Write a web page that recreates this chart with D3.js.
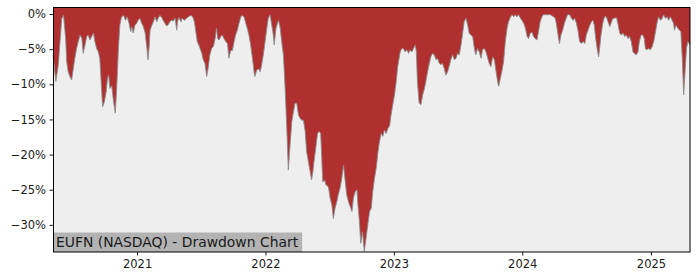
<!DOCTYPE html>
<html lang="en">
<head>
<meta charset="UTF-8">
<title>EUFN Drawdown</title>
<script src="https://d3js.org/d3.v7.min.js"></script>
<style>
  html, body { margin: 0; padding: 0; background: #fff; }
  svg text { font-family: "DejaVu Sans", sans-serif; }
</style>
</head>
<body>
<div id="chart"></div>
<script>
// drawdown in %
const dates = [
  "2020-05-07","2020-05-15","2020-05-22","2020-05-27","2020-06-01","2020-06-06","2020-06-12","2020-06-15","2020-06-19","2020-06-24",
  "2020-06-29","2020-07-03","2020-07-08","2020-07-13","2020-07-18","2020-07-23","2020-07-28","2020-08-01","2020-08-06","2020-08-11",
  "2020-08-15","2020-08-20","2020-08-25","2020-08-30","2020-09-03","2020-09-08","2020-09-13","2020-09-17","2020-09-22","2020-09-25",
  "2020-09-30","2020-10-05","2020-10-09","2020-10-12","2020-10-16","2020-10-21","2020-10-25","2020-10-31","2020-11-04","2020-11-09",
  "2020-11-13","2020-11-18","2020-11-24","2020-11-29","2020-12-04","2020-12-09","2020-12-14","2020-12-17","2020-12-21","2020-12-26",
  "2020-12-31","2021-01-04","2021-01-09","2021-01-14","2021-01-19","2021-01-24","2021-01-29","2021-02-01","2021-02-04","2021-02-07",
  "2021-02-12","2021-02-18","2021-02-21","2021-02-26","2021-03-02","2021-03-07","2021-03-12","2021-03-16","2021-03-21","2021-03-26",
  "2021-03-31","2021-04-04","2021-04-09","2021-04-14","2021-04-19","2021-04-24","2021-04-26","2021-04-30","2021-05-06","2021-05-09",
  "2021-05-15","2021-05-22","2021-05-27","2021-06-03","2021-06-08","2021-06-13","2021-06-17","2021-06-21","2021-06-27","2021-07-04",
  "2021-07-08","2021-07-13","2021-07-18","2021-07-22","2021-07-27","2021-08-01","2021-08-06","2021-08-11","2021-08-15","2021-08-18",
  "2021-08-22","2021-08-27","2021-08-31","2021-09-05","2021-09-10","2021-09-15","2021-09-19","2021-09-24","2021-09-29","2021-10-04",
  "2021-10-08","2021-10-13","2021-10-18","2021-10-23","2021-10-27","2021-11-01","2021-11-06","2021-11-10","2021-11-15","2021-11-20",
  "2021-11-25","2021-11-30","2021-12-02","2021-12-07","2021-12-12","2021-12-17","2021-12-21","2021-12-26","2021-12-31","2022-01-05",
  "2022-01-09","2022-01-14","2022-01-22","2022-01-26","2022-01-31","2022-02-07","2022-02-12","2022-02-16","2022-02-21","2022-02-26",
  "2022-03-03","2022-03-07","2022-03-12","2022-03-17","2022-03-21","2022-03-26","2022-03-31","2022-04-05","2022-04-09","2022-04-14",
  "2022-04-19","2022-04-24","2022-04-28","2022-05-03","2022-05-08","2022-05-12","2022-05-16","2022-05-19","2022-05-24","2022-05-29",
  "2022-06-03","2022-06-07","2022-06-10","2022-06-13","2022-06-18","2022-06-22","2022-06-29","2022-07-04","2022-07-09","2022-07-13",
  "2022-07-18","2022-07-23","2022-07-27","2022-08-01","2022-08-06","2022-08-11","2022-08-16","2022-08-20","2022-08-25","2022-08-30",
  "2022-09-04","2022-09-08","2022-09-13","2022-09-18","2022-09-21","2022-09-25","2022-09-29","2022-10-04","2022-10-09","2022-10-14",
  "2022-10-19","2022-10-24","2022-10-29","2022-11-02","2022-11-07","2022-11-12","2022-11-17","2022-11-21","2022-11-26","2022-12-01",
  "2022-12-05","2022-12-10","2022-12-15","2022-12-20","2022-12-24","2022-12-29","2023-01-03","2023-01-08","2023-01-12","2023-01-19",
  "2023-01-24","2023-01-28","2023-02-02","2023-02-07","2023-02-12","2023-02-16","2023-02-21","2023-02-26","2023-03-03","2023-03-06",
  "2023-03-09","2023-03-14","2023-03-19","2023-03-24","2023-03-29","2023-04-02","2023-04-07","2023-04-12","2023-04-16","2023-04-21",
  "2023-04-26","2023-05-01","2023-05-05","2023-05-10","2023-05-15","2023-05-19","2023-05-24","2023-05-29","2023-06-03","2023-06-08",
  "2023-06-12","2023-06-17","2023-06-22","2023-06-27","2023-07-01","2023-07-06","2023-07-11","2023-07-15","2023-07-20","2023-07-25",
  "2023-07-30","2023-08-03","2023-08-08","2023-08-13","2023-08-18","2023-08-22","2023-08-27","2023-09-01","2023-09-06","2023-09-10",
  "2023-09-15","2023-09-20","2023-09-25","2023-09-29","2023-10-04","2023-10-09","2023-10-14","2023-10-18","2023-10-23","2023-10-26",
  "2023-10-31","2023-11-04","2023-11-09","2023-11-14","2023-11-19","2023-11-23","2023-11-28","2023-12-03","2023-12-08","2023-12-12",
  "2023-12-17","2023-12-22","2023-12-27","2023-12-31","2024-01-05","2024-01-10","2024-01-15","2024-01-19","2024-01-24","2024-01-29",
  "2024-02-02","2024-02-07","2024-02-12","2024-02-16","2024-02-21","2024-02-26","2024-03-01","2024-03-11","2024-03-21","2024-03-30",
  "2024-04-04","2024-04-09","2024-04-14","2024-04-16","2024-04-20","2024-04-25","2024-04-30","2024-05-05","2024-05-09","2024-05-15",
  "2024-05-20","2024-05-25","2024-05-29","2024-06-03","2024-06-08","2024-06-12","2024-06-17","2024-06-22","2024-06-27","2024-07-01",
  "2024-07-06","2024-07-11","2024-07-16","2024-07-20","2024-07-24","2024-07-28","2024-08-01","2024-08-05","2024-08-08","2024-08-12",
  "2024-08-17","2024-08-22","2024-08-27","2024-09-01","2024-09-06","2024-09-11","2024-09-15","2024-09-20","2024-09-25","2024-09-30",
  "2024-10-04","2024-10-09","2024-10-14","2024-10-18","2024-10-23","2024-10-28","2024-11-01","2024-11-06","2024-11-11","2024-11-15",
  "2024-11-20","2024-11-25","2024-11-29","2024-12-04","2024-12-09","2024-12-13","2024-12-16","2024-12-20","2024-12-25","2024-12-30",
  "2025-01-04","2025-01-09","2025-01-14","2025-01-19","2025-01-23","2025-01-28","2025-02-02","2025-02-06","2025-02-11","2025-02-16",
  "2025-02-20","2025-02-25","2025-03-02","2025-03-06","2025-03-09","2025-03-13","2025-03-18","2025-03-23","2025-03-27","2025-03-31",
  "2025-04-04","2025-04-08","2025-04-12","2025-04-16","2025-04-22"
];
const drawdown = [
  -5.8,-9.6,-7.3,-3.9,-0.6,-0.2,-3.5,-6.8,-8.2,-8.9,
  -9.4,-8.0,-6.3,-4.9,-3.9,-3.0,-3.5,-5.6,-4.4,-3.2,
  -3.0,-3.7,-3.2,-2.7,-3.9,-4.9,-5.4,-6.3,-10.6,-13.2,
  -12.5,-11.1,-9.1,-8.7,-10.6,-10.2,-12.0,-14.1,-10.6,-4.9,
  -1.6,-0.4,-0.2,-0.9,-0.4,-1.3,-2.5,-1.8,-2.7,-1.6,
  -1.3,-0.9,-0.6,-1.3,-1.8,-2.7,-4.9,-6.5,-4.9,-2.3,
  -1.6,-0.9,-0.4,-1.1,-0.6,-0.2,-0.5,-0.9,-1.3,-1.7,
  -1.5,-1.1,-0.9,-1.0,-0.6,-2.3,-1.1,-0.5,-1.1,-0.6,
  -0.9,-0.6,-0.4,-0.2,-0.4,-1.1,-2.5,-3.9,-4.6,-5.6,
  -6.5,-7.0,-8.9,-7.7,-5.8,-4.9,-4.6,-3.5,-2.0,-3.5,
  -3.7,-3.2,-3.0,-3.5,-3.9,-4.2,-6.3,-5.2,-5.2,-3.9,
  -3.0,-2.3,-1.3,-0.4,-0.2,-0.4,-1.3,-2.0,-3.0,-4.4,
  -6.3,-8.4,-8.9,-8.0,-7.8,-8.2,-7.3,-5.8,-3.9,-2.0,
  -0.6,-0.1,-2.5,-4.4,-2.0,-0.9,-2.0,-3.9,-5.8,-10.6,
  -16.7,-22.2,-18.6,-15.3,-14.1,-12.7,-12.7,-14.4,-14.8,-15.1,
  -15.1,-16.7,-19.6,-21.0,-22.4,-23.6,-22.4,-21.0,-19.1,-17.0,
  -16.7,-17.0,-20.5,-23.9,-23.6,-24.3,-24.6,-26.2,-27.2,-29.1,
  -27.6,-26.7,-25.7,-24.8,-23.4,-21.5,-23.9,-25.7,-26.7,-27.4,
  -28.1,-26.2,-25.3,-25.0,-27.2,-29.5,-32.6,-31.0,-33.8,-31.9,
  -30.0,-28.1,-27.6,-25.3,-23.4,-21.9,-19.6,-18.2,-17.0,-17.4,
  -16.5,-17.0,-16.3,-15.9,-14.4,-12.9,-11.5,-9.5,-7.5,-5.4,
  -4.9,-4.9,-5.4,-5.1,-5.6,-5.1,-5.4,-4.9,-4.4,-5.4,
  -9.6,-12.7,-12.9,-11.5,-10.6,-9.6,-8.2,-7.0,-6.1,-5.6,
  -5.8,-6.5,-6.3,-7.0,-7.2,-7.0,-7.7,-8.7,-8.2,-7.3,
  -6.5,-5.8,-6.5,-6.3,-5.6,-5.8,-4.4,-3.0,-1.1,-0.6,
  -1.6,-2.7,-3.0,-3.2,-4.9,-5.8,-4.9,-5.4,-6.3,-5.1,
  -4.9,-5.4,-6.3,-7.0,-7.5,-6.1,-6.5,-8.0,-9.6,-10.3,
  -9.1,-8.2,-6.8,-3.9,-2.0,-1.1,-0.5,-0.1,-0.4,-0.1,
  -0.4,-0.1,-0.6,-0.9,-1.3,-2.0,-3.2,-3.5,-2.7,-2.6,
  -3.2,-3.5,-3.7,-2.6,-1.1,-0.4,-0.1,-0.1,-0.1,-0.4,
  -0.6,-2.0,-3.7,-4.2,-3.0,-2.3,-1.3,-0.6,-0.1,-0.1,
  -0.6,-0.9,-0.6,-1.3,-2.5,-3.9,-4.2,-3.9,-4.2,-3.0,
  -2.3,-1.6,-1.1,-0.9,-1.6,-3.5,-4.9,-6.1,-4.9,-3.0,
  -1.3,-0.4,-0.4,-1.1,-1.8,-1.1,-0.6,-0.6,-0.5,-1.6,
  -2.7,-3.0,-2.7,-3.2,-3.0,-3.5,-3.2,-3.9,-5.4,-5.6,
  -5.8,-5.4,-3.9,-3.0,-3.0,-3.5,-4.9,-5.1,-4.9,-5.1,
  -4.7,-3.9,-2.5,-1.1,-0.4,-0.9,-0.6,-0.1,-0.6,-0.4,
  -0.9,-0.4,-0.9,-1.3,-2.3,-1.6,-2.0,-2.3,-2.5,-6.3,
  -11.5,-8.2,-4.9,-3.9,-4.4
];
const yTicks = [0, -5, -10, -15, -20, -25, -30];
const yLimits = [-33.86, 1.0];
const xTickYears = [2021, 2022, 2023, 2024, 2025];
const title = "EUFN (NASDAQ) - Drawdown Chart";

const width = 700, height = 280;
const margin = {top: 7, right: 10, bottom: 28, left: 53};
const gwidth = width - margin.left - margin.right;
const gheight = height - margin.top - margin.bottom;

const parse = d3.timeParse("%Y-%m-%d");
const data = dates.map((d, i) => ({date: parse(d), value: drawdown[i]}));

const svg = d3.select("#chart").append("svg")
  .attr("width", width).attr("height", height);

const xScale = d3.scaleTime()
  .domain(d3.extent(data, d => d.date))
  .range([0, gwidth]);
const yScale = d3.scaleLinear().domain(yLimits).range([gheight, 0]);

const g = svg.append("g")
  .attr("transform", "translate(" + margin.left + "," + margin.top + ")");

// plot background
g.append("rect")
  .attr("width", gwidth).attr("height", gheight)
  .attr("fill", "#eeeeee");

// filled from the curve up to the top of the axes
const area = d3.area()
  .x(d => xScale(d.date))
  .y0(yScale(yLimits[1]))
  .y1(d => yScale(d.value));
g.append("path").datum(data)
  .attr("d", area)
  .attr("fill", "#b03030");

const line = d3.line()
  .x(d => xScale(d.date))
  .y(d => yScale(d.value));
g.append("path").datum(data)
  .attr("d", line)
  .attr("fill", "none")
  .attr("stroke", "#8c8c8c")
  .attr("stroke-width", 0.9);

// title box in the lower-left corner
const titleText = g.append("text")
  .attr("x", 3).attr("y", gheight - 5.5)
  .attr("font-size", 13.9)
  .attr("fill", "#1a1a1a")
  .text(title);
const tb = titleText.node().getBBox();
g.insert("rect", "text")
  .attr("x", 0).attr("y", gheight - 19.5)
  .attr("width", tb.width + 6.5).attr("height", 19.5)
  .attr("fill", "#b3b3b3");

// axes
const fmt = d => (d < 0 ? "\u2212" : "") + Math.abs(d) + "%";
const yAxis = d3.axisLeft(yScale).tickValues(yTicks).tickFormat(fmt)
  .tickSize(3.5).tickPadding(3.5);
const xAxis = d3.axisBottom(xScale)
  .tickValues(xTickYears.map(y => new Date(y, 0, 1)))
  .tickFormat(d3.timeFormat("%Y"))
  .tickSize(3.5).tickPadding(4);

const ya = g.append("g").call(yAxis);
const xa = g.append("g").attr("transform", "translate(0," + gheight + ")").call(xAxis);
[ya, xa].forEach(a => {
  a.select(".domain").remove();
  a.selectAll("text").attr("font-size", 11.5).attr("fill", "#1a1a1a")
    .attr("font-family", "DejaVu Sans");
  a.selectAll("line").attr("stroke", "#000").attr("stroke-width", 0.9);
});

// frame
g.append("rect")
  .attr("x", 0.5).attr("y", 0.5)
  .attr("width", gwidth - 0.5).attr("height", gheight - 0.5)
  .attr("fill", "none")
  .attr("stroke", "#000").attr("stroke-width", 1);
</script>
</body>
</html>
